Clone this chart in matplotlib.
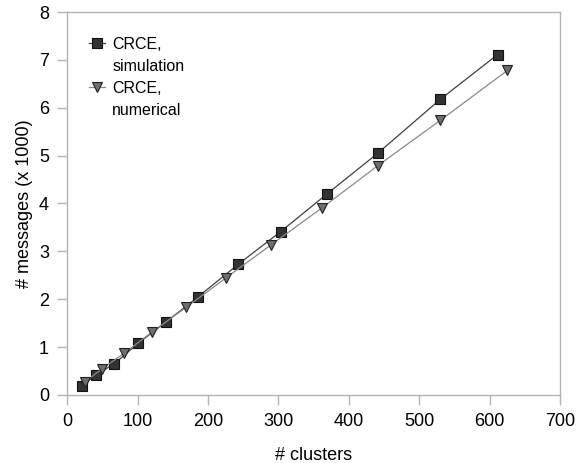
import matplotlib
matplotlib.use("Agg")
import matplotlib.pyplot as plt
from matplotlib.lines import Line2D

plt.rcParams['font.family'] = ['Liberation Sans', 'DejaVu Sans']

# data
sim_x = [21, 41, 67, 101, 140, 186, 243, 303, 369, 441, 530, 611]
sim_y = [0.19, 0.42, 0.65, 1.08, 1.52, 2.05, 2.73, 3.41, 4.20, 5.05, 6.18, 7.11]
num_x = [26, 49, 81, 121, 169, 225, 289, 362, 441, 530, 625]
num_y = [0.28, 0.54, 0.87, 1.32, 1.83, 2.44, 3.13, 3.91, 4.79, 5.74, 6.78]

labels = [("CRCE,", "simulation"), ("CRCE,", "numerical")]
xticks = [0, 100, 200, 300, 400, 500, 600, 700]
yticks = [0, 1, 2, 3, 4, 5, 6, 7, 8]

fig = plt.figure(figsize=(5.83, 4.63), dpi=100)
ax = fig.add_axes([0.115, 0.147, 0.846, 0.827])

l1, = ax.plot(sim_x, sim_y, color='#404040', lw=0.9, marker='s', ms=7,
              mfc='#333333', mec='#111111', mew=0.8)
l2, = ax.plot(num_x, num_y, color='#8a8a8a', lw=0.9, marker='v', ms=7.5,
              mfc='#6e6e6e', mec='#222222', mew=0.8)

ax.set_xlim(0, 700)
ax.set_ylim(0, 8)
ax.set_xticks(xticks)
ax.set_yticks(yticks)
ax.tick_params(direction='out', length=7, width=1, color='#b4b4b4',
               labelsize=13, pad=6)

for s in ax.spines.values():
    s.set_color('#b4b4b4')
    s.set_linewidth(1)

ax.set_xlabel("# clusters", fontsize=13, labelpad=12)
ax.set_ylabel("# messages (x 1000)", fontsize=13, labelpad=4)

# legend: marker sits beside the first line of each two-line label
blank = Line2D([], [], alpha=0)
handles = [l1, blank, l2, blank]
texts = [labels[0][0], labels[0][1], labels[1][0], labels[1][1]]
leg = ax.legend(handles, texts, loc='upper left', frameon=False, fontsize=11.5,
                handlelength=1.0, handletextpad=0.45, labelspacing=0.44,
                bbox_to_anchor=(0.025, 0.96), borderaxespad=0.2)

fig.savefig("out.png", dpi=100)
